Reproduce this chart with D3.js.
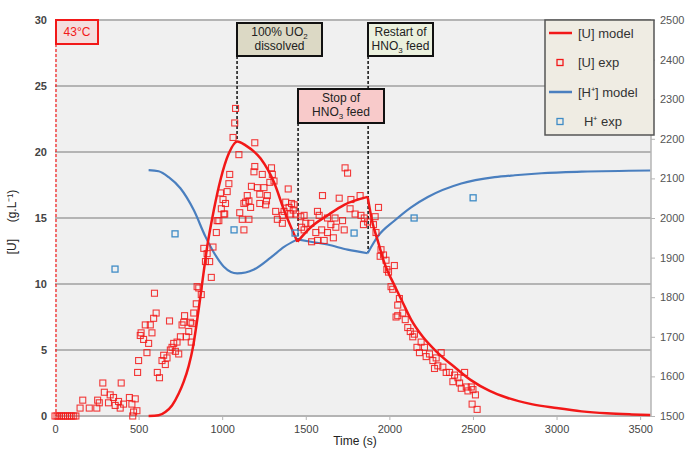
<!DOCTYPE html>
<html>
<head>
<meta charset="utf-8">
<script src="https://cdn.jsdelivr.net/npm/d3@7"></script>
<style>
  body { margin: 0; background: #fff; }
  text { font-family: "Liberation Sans", Arial, sans-serif; }
</style>
</head>
<body>
<svg id="chart" width="687" height="449"></svg>
<script>
// tick values
var timeTicks = [0, 500, 1000, 1500, 2000, 2500, 3000, 3500];
var uTicks = [0, 5, 10, 15, 20, 25, 30];
var hTicks = [1500, 1600, 1700, 1800, 1900, 2000, 2100, 2200, 2300, 2400, 2500];

// [U] model (g/L) vs time (s)
var uModelT = [560, 620, 660, 700, 740, 770, 800, 825, 845, 865, 885, 910, 950, 990, 1040, 1090, 1140, 1230, 1310, 1370, 1450,
  1530, 1630, 1730, 1870, 1900, 1930, 1970, 2030, 2080, 2130, 2200, 2280, 2400, 2490, 2600, 2700, 2850, 3000, 3150, 3300, 3450, 3560];
var uModelV = [0, 0.05, 0.3, 0.8, 1.7, 2.6, 3.8, 5.2, 6.8, 8.6, 10.5, 12.8, 15.6, 17.9, 19.9, 20.8, 20.5, 19.5, 17.7, 15.6, 13.2,
  14.3, 15.2, 16.0, 16.6, 14.6, 13.3, 11.6, 9.9, 8.6, 7.3, 6.0, 4.9, 3.6, 2.7, 1.9, 1.4, 0.9, 0.6, 0.35, 0.2, 0.12, 0.08];

// [H+] model (right axis)
var hModelT = [560, 620, 680, 750, 830, 900, 950, 1010, 1090, 1190, 1290, 1370, 1450, 1530, 1630, 1750, 1870,
  1930, 2030, 2130, 2230, 2430, 2630, 2750, 2910, 3150, 3560];
var hModelV = [2121, 2118, 2103, 2075, 2020, 1953, 1913, 1877, 1860, 1870, 1900, 1927, 1946, 1940, 1933, 1920, 1911,
  1953, 1993, 2027, 2053, 2087, 2103, 2108, 2113, 2117, 2120];

// feed events where the model curves break
var modelBreaks = [1450, 1870];

// [U] exp points [time, g/L]
var uExp = [[0,0],[12,0],[25,0],[38,0],[50,0],[62,0],[75,0],[88,0],[100,0],[112,0],[125,0],
  [150,0.6],[166,1.2],[205,0.6],[250,0.6],[255,1.2],[265,1.0],[286,2.5],[295,1.8],[320,1.0],[330,1.6],[350,1.4],
  [360,0.8],[380,1.1],[390,0.6],[396,2.5],[410,0.9],[445,1.4],[460,0.9],[465,0],[470,0.3],[480,1.3],[490,0.4],
  [494,3.3],[500,4.2],[510,6.1],[515,6.3],[530,5.8],[540,6.9],[550,4.8],[560,5.5],[570,6.9],[580,6.3],[590,7.4],
  [595,9.3],[605,7.8],[612,3.3],[625,2.9],[640,4.2],[650,4.6],[660,3.9],[670,4.4],[685,7.2],[690,5.0],[700,5.2],
  [710,5.5],[720,4.9],[730,5.6],[740,4.7],[750,6.0],[760,6.9],[770,7.1],[775,7.6],[785,6.0],[800,6.4],[810,7.1],
  [815,5.6],[820,7.0],[830,7.8],[845,8.5],[850,9.8],[860,9.7],[875,9.2],
  [890,12.7],[900,11.7],[910,12.3],[925,11.7],[935,10.5],[945,12.8],[965,13.9],[970,14.8],[980,14.8],[990,16.9],
  [995,15.7],[1005,16.4],[1010,15.3],[1015,15.3],[1020,16.1],[1030,17.0],[1040,17.6],[1045,18.3],[1065,21.1],
  [1075,22.2],[1080,23.3],[1100,19.8],[1105,15.4],[1120,14.9],[1130,14.1],[1130,16.1],[1140,16.2],[1150,16.7],
  [1160,16.3],[1160,14.9],[1170,15.8],[1175,17.4],[1190,18.5],[1195,18.9],[1195,20.7],[1210,17.3],[1225,16.8],
  [1225,16.1],[1240,18.3],[1250,17.3],[1260,16.0],[1265,16.3],[1270,16.7],[1285,17.7],[1295,18.8],[1300,18.3],
  [1310,17.8],[1320,15.5],[1330,14.9],[1360,14.6],[1360,15.2],[1370,15.5],[1380,16.2],[1395,17.2],[1400,15.8],
  [1410,15.3],[1415,16.1],[1425,15.6],[1430,16.0],[1440,15.3],[1470,15.1],[1475,14.3],[1490,14.1],[1490,15.2],
  [1500,14.6],[1530,14.6],[1535,13.2],[1560,13.9],[1570,15.5],[1570,13.3],[1580,15.2],[1595,14.1],[1600,16.7],
  [1610,13.3],[1630,13.9],[1630,15.0],[1650,14.5],[1665,13.5],[1675,15.0],[1680,14.3],[1700,16.5],[1720,14.8],
  [1730,14.1],[1735,18.8],[1750,18.4],[1765,15.7],[1770,16.4],[1795,15.3],[1825,16.7],[1830,15.2],[1845,14.5],
  [1850,15.0],[1870,14.7],[1905,14.5],[1915,15.1],[1920,13.9],[1935,15.8],[1945,12.1],[1950,12.6],[1965,12.2],
  [1980,11.8],[1985,11.1],[1995,10.9],[2010,9.8],[2020,9.6],[2030,11.4],[2040,7.5],[2050,7.6],[2050,8.4],
  [2060,8.9],[2080,7.8],[2095,7.3],[2110,6.7],[2125,6.4],[2140,6.0],[2150,6.2],[2165,5.2],[2180,4.8],[2190,5.6],
  [2210,5.2],[2220,4.5],[2240,4.7],[2260,4.2],[2270,3.6],[2280,4.4],[2290,3.8],[2310,4.8],[2320,3.7],[2340,3.3],
  [2360,3.3],[2380,2.6],[2390,3.1],[2410,2.9],[2420,2.5],[2430,2.1],[2450,3.3],[2460,2.2],[2470,1.9],[2490,2.2],
  [2495,0.9],[2500,2.0],[2515,1.6],[2525,0.5]];

// H+ exp points (right axis)
var hExpT = [359, 718, 1071, 1436, 1789, 2148, 2501];
var hExpV = [1871, 1960, 1970, 1962, 1962, 2000, 2051];

var legendLabels = ["[U] model", "[U] exp", "[H\u207a] model", "H\u207a exp"];

var red = "#f21818", blue = "#4a7fbf";

var svg = d3.select("#chart");
svg.append("rect").attr("width", 687).attr("height", 449).attr("fill", "#fff");

var x = d3.scaleLinear().domain([0, 3565]).range([55, 651]);
var yU = d3.scaleLinear().domain([0, 30]).range([416, 20]);
var yH = d3.scaleLinear().domain([1500, 2500]).range([416, 20]);

// plot background
svg.append("rect")
  .attr("x", x(0)).attr("y", yU(30))
  .attr("width", x(3565) - x(0)).attr("height", yU(0) - yU(30))
  .attr("fill", "#f0f0f0");

// gridlines
svg.append("g").selectAll("line").data(uTicks).enter().append("line")
  .attr("x1", x(0)).attr("x2", x(3565))
  .attr("y1", function (d) { return yU(d); })
  .attr("y2", function (d) { return yU(d); })
  .attr("stroke", "#b4b4b4").attr("stroke-width", 2);

// right border
svg.append("line")
  .attr("x1", x(3565)).attr("x2", x(3565)).attr("y1", yU(30)).attr("y2", yU(0))
  .attr("stroke", "#b4b4b4").attr("stroke-width", 1.5);

// left axis labels
svg.append("g")
  .attr("transform", "translate(" + x(0) + ",0)")
  .call(d3.axisLeft(yU).tickValues(uTicks).tickSize(0).tickPadding(8))
  .call(function (g) {
    g.select(".domain").remove();
    g.selectAll("text").attr("font-size", 11).attr("font-weight", "bold").attr("fill", "#444")
      .style("font-family", "'Liberation Sans', Arial, sans-serif");
  });

// right axis
svg.append("g")
  .attr("transform", "translate(" + x(3565) + ",0)")
  .call(d3.axisRight(yH).tickValues(hTicks).tickFormat(d3.format("d")).tickSize(4).tickPadding(5))
  .call(function (g) {
    g.select(".domain").remove();
    g.selectAll("line").attr("stroke", "#b4b4b4");
    g.selectAll("text").attr("font-size", 11).attr("fill", "#555")
      .style("font-family", "'Liberation Sans', Arial, sans-serif");
  });

// bottom axis
svg.append("g")
  .attr("transform", "translate(0," + yU(0) + ")")
  .call(d3.axisBottom(x).tickValues(timeTicks).tickFormat(d3.format("d")).tickSize(4).tickPadding(5))
  .call(function (g) {
    g.select(".domain").remove();
    g.selectAll("line").attr("stroke", "#b4b4b4");
    g.selectAll("text").attr("font-size", 11).attr("fill", "#444")
      .style("font-family", "'Liberation Sans', Arial, sans-serif");
  });

// axis titles
svg.append("text")
  .attr("x", 355).attr("y", 445)
  .attr("text-anchor", "middle").attr("font-size", 12).attr("fill", "#222")
  .text("Time (s)");
svg.append("text")
  .attr("transform", "translate(16,222) rotate(-90)")
  .attr("text-anchor", "middle").attr("font-size", 12).attr("fill", "#222")
  .style("white-space", "pre")
  .text("[U]     (g.L\u207b\u00b9)");

// split model curves at feed events
function segments(ts, vs) {
  var bounds = [-Infinity].concat(modelBreaks).concat([Infinity]);
  var segs = [];
  for (var i = 0; i < bounds.length - 1; i++) {
    var seg = [];
    ts.forEach(function (t, j) {
      if (t >= bounds[i] && t <= bounds[i + 1]) seg.push([t, vs[j]]);
    });
    segs.push(seg);
  }
  return segs;
}

// event dashed lines
var events = [
  { t: 1089, top: 56, bottom: 140 },
  { t: 1454, top: 123, bottom: 241 },
  { t: 1873, top: 56, bottom: 252 }
];
svg.append("g").selectAll("line").data(events).enter().append("line")
  .attr("x1", function (d) { return x(d.t); })
  .attr("x2", function (d) { return x(d.t); })
  .attr("y1", function (d) { return d.top; })
  .attr("y2", function (d) { return d.bottom; })
  .attr("stroke", "#111").attr("stroke-width", 1.5).attr("stroke-dasharray", "3,2");

// H+ model
var lineH = d3.line().x(function (d) { return x(d[0]); }).y(function (d) { return yH(d[1]); })
  .curve(d3.curveMonotoneX);
svg.append("g").selectAll("path").data(segments(hModelT, hModelV)).enter().append("path")
  .attr("d", lineH).attr("fill", "none").attr("stroke", blue).attr("stroke-width", 2.2);

// U exp squares
svg.append("g").selectAll("rect").data(uExp).enter().append("rect")
  .attr("x", function (d) { return x(d[0]) - 3; })
  .attr("y", function (d) { return yU(d[1]) - 3; })
  .attr("width", 6).attr("height", 6)
  .attr("fill", "none").attr("stroke", red).attr("stroke-width", 1.1).attr("stroke-opacity", 0.85);

// U model
var lineU = d3.line().x(function (d) { return x(d[0]); }).y(function (d) { return yU(d[1]); })
  .curve(d3.curveMonotoneX);
svg.append("g").selectAll("path").data(segments(uModelT, uModelV)).enter().append("path")
  .attr("d", lineU).attr("fill", "none").attr("stroke", red).attr("stroke-width", 2.5);

// H+ exp squares
svg.append("g").selectAll("rect").data(hExpT).enter().append("rect")
  .attr("x", function (d) { return x(d) - 3; })
  .attr("y", function (d, i) { return yH(hExpV[i]) - 3; })
  .attr("width", 6).attr("height", 6)
  .attr("fill", "none").attr("stroke", "#3f8cc6").attr("stroke-width", 1.3);

// 43°C marker
svg.append("line")
  .attr("x1", 56).attr("x2", 56).attr("y1", 44).attr("y2", 416)
  .attr("stroke", red).attr("stroke-width", 1.2).attr("stroke-dasharray", "3,2");
svg.append("rect").attr("x", 56).attr("y", 20).attr("width", 42).attr("height", 24)
  .attr("fill", "#f4dede").attr("stroke", red).attr("stroke-width", 2);
svg.append("text").attr("x", 77).attr("y", 36).attr("text-anchor", "middle")
  .attr("font-size", 12).attr("fill", red).text("43°C");

// annotation boxes; a part {sub: "x"} is drawn as a subscript
function noteBox(bx, by, w, h, fill, lines) {
  svg.append("rect").attr("x", bx).attr("y", by).attr("width", w).attr("height", h)
    .attr("fill", fill).attr("stroke", "#111").attr("stroke-width", 2);
  lines.forEach(function (parts, i) {
    var t = svg.append("text").attr("x", bx + w / 2).attr("y", by + 13 + i * 14)
      .attr("text-anchor", "middle").attr("font-size", 12).attr("fill", "#222");
    var shifted = false;
    parts.forEach(function (p) {
      if (typeof p === "object") {
        t.append("tspan").attr("font-size", 8).attr("dy", 3).text(p.sub);
        shifted = true;
      } else {
        t.append("tspan").attr("dy", shifted ? -3 : 0).text(p);
        shifted = false;
      }
    });
  });
}
noteBox(237, 23, 85, 33, "#dcd9c5", [["100% UO", { sub: "2" }], ["dissolved"]]);
noteBox(368, 23, 65, 33, "#ebf1de", [["Restart of"], ["HNO", { sub: "3" }, " feed"]]);
noteBox(298, 89, 86, 34, "#f8caca", [["Stop of"], ["HNO", { sub: "3" }, " feed"]]);

// legend
var lg = svg.append("g");
lg.append("rect").attr("x", 545).attr("y", 20).attr("width", 109).attr("height", 115)
  .attr("fill", "#efece3").attr("stroke", "#555").attr("stroke-width", 1.5);
legendLabels.forEach(function (lab, i) {
  var cy = 33 + i * 29.5;
  var col = i < 2 ? red : blue;
  if (i % 2 === 0) {
    lg.append("line").attr("x1", 549).attr("x2", 572).attr("y1", cy).attr("y2", cy)
      .attr("stroke", col).attr("stroke-width", 2.5);
  } else {
    lg.append("rect").attr("x", 557).attr("y", cy - 3).attr("width", 6).attr("height", 6)
      .attr("fill", "none").attr("stroke", i === 1 ? red : "#3f8cc6").attr("stroke-width", 1.3);
  }
  lg.append("text").attr("x", i === 3 ? 584 : 578).attr("y", cy + 4.5)
    .attr("font-size", 13).attr("fill", "#333").text(lab);
});
</script>
</body>
</html>
